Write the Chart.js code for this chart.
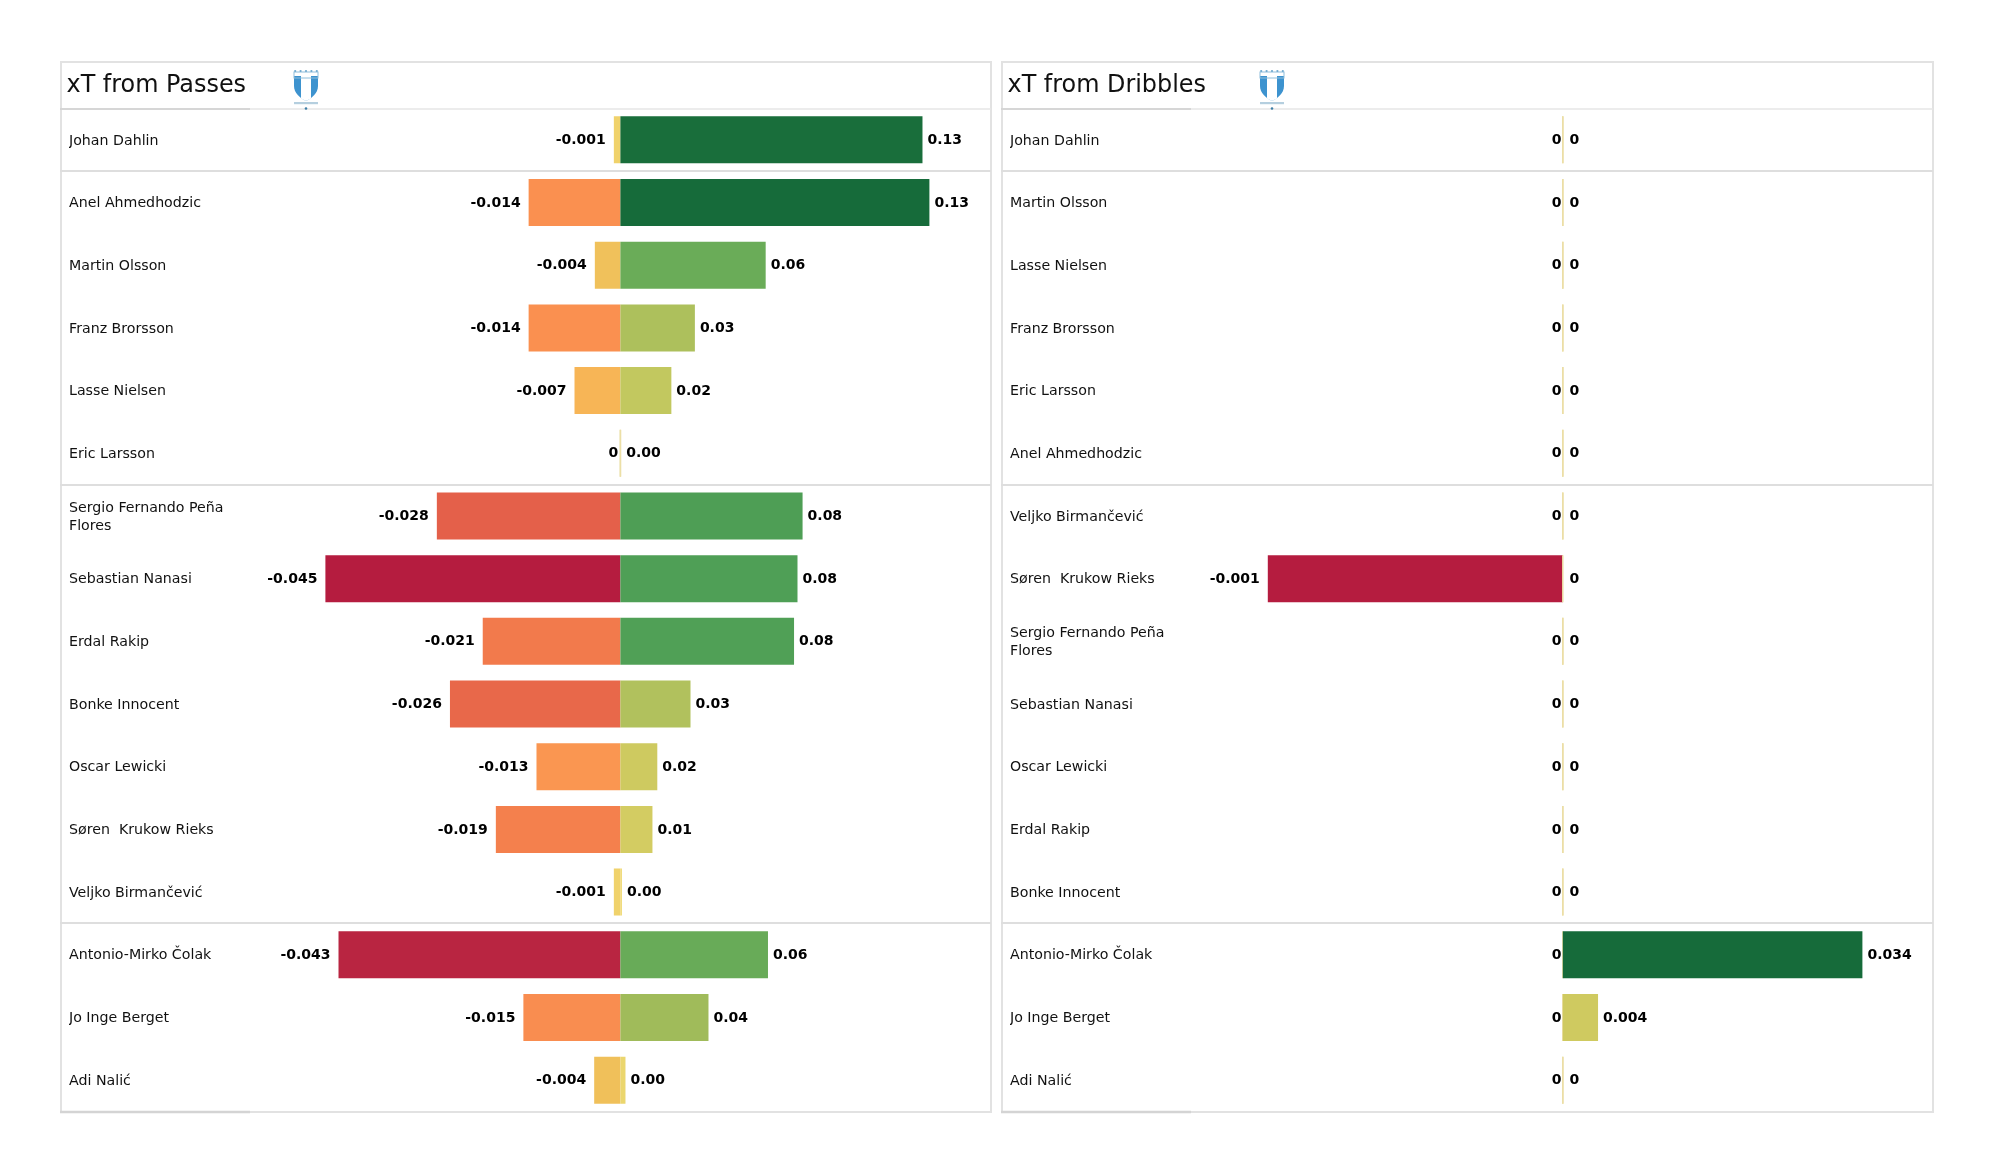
<!DOCTYPE html>
<html><head><meta charset="utf-8">
<style>html,body{margin:0;background:#fff;width:2000px;height:1175px;overflow:hidden}
canvas{position:absolute}</style>
<script src="https://cdn.jsdelivr.net/npm/chart.js@4"></script></head>
<body>
<canvas id="c1" style="left:60px;top:61px" width="933" height="1053"></canvas>
<canvas id="c2" style="left:1001px;top:61px" width="934" height="1053"></canvas>
<script>
const passPlayers=["Johan Dahlin","Anel Ahmedhodzic","Martin Olsson","Franz Brorsson","Lasse Nielsen","Eric Larsson",["Sergio Fernando Peña","Flores"],"Sebastian Nanasi","Erdal Rakip","Bonke Innocent","Oscar Lewicki","Søren  Krukow Rieks","Veljko Birmančević","Antonio-Mirko Čolak","Jo Inge Berget","Adi Nalić"];
const passNeg=[-0.001,-0.014,-0.0039,-0.014,-0.007,0,-0.028,-0.045,-0.021,-0.026,-0.0128,-0.019,-0.001,-0.043,-0.0148,-0.004];
const passPos=[0.131,0.134,0.063,0.0323,0.0221,0,0.079,0.0768,0.0753,0.0304,0.016,0.0139,0.0004,0.064,0.0382,0.0022];
const dribPlayers=["Johan Dahlin","Martin Olsson","Lasse Nielsen","Franz Brorsson","Eric Larsson","Anel Ahmedhodzic","Veljko Birmančević","Søren  Krukow Rieks",["Sergio Fernando Peña","Flores"],"Sebastian Nanasi","Oscar Lewicki","Erdal Rakip","Bonke Innocent","Antonio-Mirko Čolak","Jo Inge Berget","Adi Nalić"];
const dribNeg=[0,0,0,0,0,0,0,-0.001,0,0,0,0,0,0,0,0];
const dribPos=[0,0,0,0,0,0,0,0,0,0,0,0,0,0.034,0.004,0];
const colorStops=[[-1,[181,28,63]],[-0.95,[186,38,65]],[-0.622,[228,96,74]],[-0.578,[232,104,74]],[-0.467,[242,122,76]],[-0.31,[250,144,80]],[-0.155,[247,181,86]],[-0.09,[240,192,90]],[0,[240,216,112]],[0.12,[206,202,96]],[0.165,[194,200,95]],[0.24,[173,192,92]],[0.285,[160,187,90]],[0.47,[106,172,88]],[0.56,[80,160,86]],[0.59,[78,158,85]],[1,[22,107,58]]];
const zeroColor='#ecdfa6';
function ramp(t){
  if(t===0) return zeroColor;
  for(let i=1;i<colorStops.length;i++){
    const a=colorStops[i-1],b=colorStops[i];
    if(t<=b[0]){const f=(t-a[0])/(b[0]-a[0]);
      return 'rgb('+a[1].map((c,k)=>Math.round(c+(b[1][k]-c)*f)).join(',')+')';}
  }
  return 'rgb(22,107,58)';
}
const FONT='"DejaVu Sans"';
const AXIS_W=172,PAD_L=6.5;
function panel(id,title,players,neg,pos,zeroPx,negPxMax,posPxMax,crestX,posFmt,zeroNudge){
  const W=document.getElementById(id).width;
  const areaL=PAD_L+AXIS_W, areaW=W-areaL-1;
  const zeroInArea=zeroPx-areaL;
  const negMax=Math.max(...neg.map(Math.abs)),posMax=Math.max(...pos);
  const negUnit=negPxMax/negMax,posUnit=posPxMax/posMax;
  const fmtNeg=v=>v===0?'0':v.toFixed(3);
  const framePlugin={id:'frame',
    afterLayout(c){
      const s=c.scales.y;s.left+=2.5;
      const orig=s._computeLabelItems;
      s._computeLabelItems=function(ca){
        const items=orig.call(s,ca);
        items.forEach(it=>{it.options.translation=[it.options.translation[0],it.options.translation[1]+1];});
        return items;};
    },
    beforeDraw(c){
    const x=c.ctx,r=W-2,a=c.chartArea;
    x.save();
    x.strokeStyle='#e2e2e2';x.lineWidth=2;
    x.strokeRect(1,1,r-1,1050);
    const row=a.height/16;
    [0,1,6,13].forEach(i=>{const y=Math.round(a.top+row*i);
      x.lineWidth=i===0?1.5:2;
      x.strokeStyle=i===0?'#e6e6e6':'#dedede';
      x.beginPath();x.moveTo(0,y);x.lineTo(r,y);x.stroke();});
    x.strokeStyle='#cfcfcf';x.lineWidth=1.5;
    x.beginPath();x.moveTo(0,Math.round(a.top));x.lineTo(190,Math.round(a.top));x.stroke();
    x.strokeStyle='#d4d4d4';x.lineWidth=2.5;
    x.beginPath();x.moveTo(0,1051);x.lineTo(190,1051);x.stroke();
    x.restore();
  }};
  const crestPlugin={id:'crest',afterDraw(c){
    const x=c.ctx;
    x.save();x.translate(crestX,9);
    x.fillStyle='#3d93cf';
    x.beginPath();x.moveTo(-12,6);x.lineTo(12,6);x.lineTo(12,16);
    x.bezierCurveTo(12,23,6,28,0,31);x.bezierCurveTo(-6,28,-12,23,-12,16);x.closePath();x.fill();
    x.fillStyle='#fff';
    x.beginPath();x.moveTo(-5,6);x.lineTo(5,6);x.lineTo(5,28.5);x.lineTo(0,31);x.lineTo(-5,28.5);x.closePath();x.fill();
    x.strokeStyle='#8fbedb';x.lineWidth=1;x.strokeRect(-12,2,24,6);
    x.fillStyle='#6fa9cf';
    for(let i=-2;i<=2;i++){x.beginPath();x.arc(i*5.4,1,1.1,0,7);x.fill();}
    x.fillStyle='#b5cfdf';x.fillRect(-12,32,24,2.2);
    x.fillStyle='#3d7fa8';x.beginPath();x.arc(0,38.5,1.3,0,7);x.fill();
    x.restore();
  }};
  const labelPlugin={id:'vals',afterDatasetsDraw(c){
    const x=c.ctx;x.save();
    x.font='bold 14px '+FONT;x.fillStyle='#000';x.textBaseline='middle';
    c.getDatasetMeta(0).data.forEach((b,i)=>{
      const v=neg[i];x.textAlign='right';
      x.fillText(fmtNeg(v),b.x-(v===0?1.5-zeroNudge:8),b.y+0.5);});
    c.getDatasetMeta(1).data.forEach((b,i)=>{
      const v=pos[i];x.textAlign='left';
      x.fillText(posFmt(v),b.x+(v===0?6.5+zeroNudge:5),b.y+0.5);});
    x.restore();
  }};
  new Chart(document.getElementById(id),{
    type:'bar',
    data:{labels:players,datasets:[
      {data:neg,xAxisID:'xNeg',order:1,grouped:false,minBarLength:1.5,backgroundColor:neg.map(v=>ramp(v/negMax)),borderWidth:0,categoryPercentage:1,barPercentage:0.75},
      {data:pos,xAxisID:'xPos',order:0,grouped:false,minBarLength:1.5,backgroundColor:pos.map(v=>ramp(v/posMax)),borderWidth:0,categoryPercentage:1,barPercentage:0.75}
    ]},
    options:{
      indexAxis:'y',responsive:false,animation:false,
      layout:{padding:{left:PAD_L,right:1,top:7.5,bottom:2.5}},
      plugins:{legend:{display:false},tooltip:{enabled:false},
        title:{display:true,text:title,align:'start',color:'#111',font:{family:FONT,size:23.9,weight:'normal'},padding:{top:2.5,bottom:8.82}}},
      scales:{
        y:{offset:true,grid:{display:false},border:{display:false},
          afterFit(s){s.width=AXIS_W;s.paddingTop=0;s.paddingBottom=0;},
          ticks:{autoSkip:false,crossAlign:'far',padding:0,color:'#111',font:{family:FONT,size:14.2,lineHeight:1.25}}},
        xNeg:{type:'linear',display:false,min:-zeroInArea/negUnit,max:(areaW-zeroInArea)/negUnit},
        xPos:{type:'linear',display:false,min:-zeroInArea/posUnit,max:(areaW-zeroInArea)/posUnit}
      }
    },
    plugins:[framePlugin,crestPlugin,labelPlugin]
  });
}
panel('c1','xT from Passes',passPlayers,passNeg,passPos,560.4,295,309,246,v=>v.toFixed(2),0);
panel('c2','xT from Dribbles',dribPlayers,dribNeg,dribPos,561.8,295,299.6,271,v=>v===0?'0':v.toFixed(3),1);
</script>
</body></html>
